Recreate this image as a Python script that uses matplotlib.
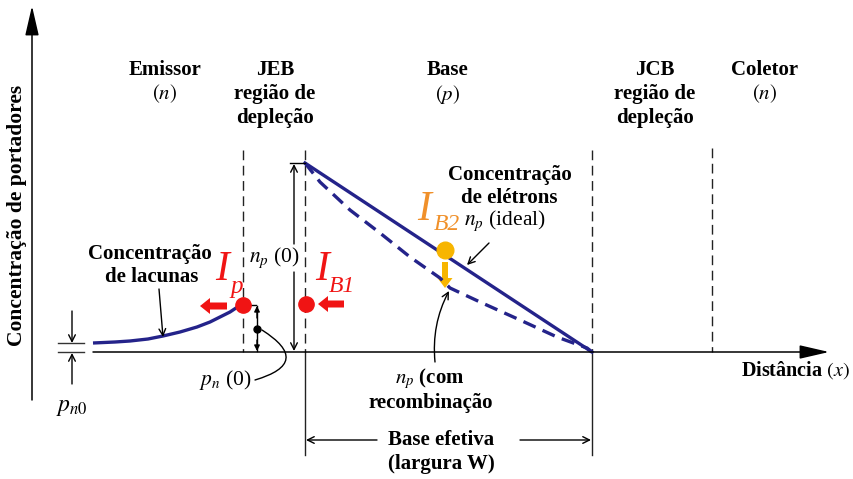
import matplotlib.pyplot as plt
from matplotlib.patches import FancyArrow

plt.rcParams['mathtext.fontset'] = 'stix'
plt.rcParams['font.family'] = ['Liberation Serif', 'DejaVu Serif']

# carrier profiles along the transistor (x to the right, concentration upward on screen)
hole_x = [93, 115, 130, 148, 163, 180, 197, 210, 220, 230, 236, 243]
hole_y = [343, 342, 341, 339, 336, 332, 327, 322, 317, 312, 308, 305]

ideal_x = [305, 592]
ideal_y = [163, 352]

recomb_x = [305, 320, 350, 380, 410, 440, 450, 480, 520, 557, 587, 592]
recomb_y = [163, 182, 210, 233, 257, 278, 288, 302, 320, 337, 348, 352]

# region boundaries (dashed lines)
boundary_x = [243, 305, 592, 712]
boundary_top = [150, 150, 150, 148]

baseline_y = 352
pn0_y = 305

regions = [
    (165, ['Emissor', r'$(n)$']),
    (275, ['JEB', 'região de', 'depleção']),
    (448, ['Base', r'$(p)$']),
    (655, ['JCB', 'região de', 'depleção']),
    (765, ['Coletor', r'$(n)$']),
]

NAVY = '#24238a'
RED = '#f01414'
ORANGE_TXT = '#f0902a'
ORANGE = '#f7b500'

fig = plt.figure(figsize=(8.54, 4.79), dpi=100)
ax = fig.add_axes([0, 0, 1, 1])
ax.set_xlim(0, 854)
ax.set_ylim(479, 0)
ax.axis('off')


def arrow(x0, y0, x1, y1, style='->', lw=1.0, color='k', rad=0.0, ms=12):
    ax.annotate('', xy=(x1, y1), xytext=(x0, y0),
                arrowprops=dict(arrowstyle=style, lw=lw, color=color,
                                mutation_scale=ms, shrinkA=0, shrinkB=0,
                                connectionstyle=f'arc3,rad={rad}'))


def text(x, y, s, size=15, weight='bold', **kw):
    ax.text(x, y, s, fontsize=size, fontweight=weight, ha=kw.pop('ha', 'center'),
            va=kw.pop('va', 'center'), **kw)


# axes
arrow(32, 400, 32, 6, style='-|>,head_length=1.3,head_width=0.3', lw=1.1, ms=14)
arrow(93, baseline_y, 829, baseline_y, style='-|>,head_length=1.3,head_width=0.3', lw=1.1, ms=14)
text(17, 215, 'Concentração de portadores', size=15.5, rotation=90)
text(850, 370, r'Distância $(x)$', size=14.5, ha='right')

# region titles
for cx, lines in regions:
    for i, s in enumerate(lines):
        text(cx, 70 + 24 * i, s)

# boundaries
for bx, top in zip(boundary_x, boundary_top):
    ax.plot([bx, bx], [top, baseline_y], color='#222', lw=1.0, dashes=(7, 4))
for bx in (305, 592):
    ax.plot([bx, bx], [baseline_y, 455], color='#222', lw=1.0)

# equilibrium hole level p_n0
for yy in (343, 352):
    ax.plot([58, 84], [yy, yy], color='#333', lw=1.0)
arrow(72, 311, 72, 343)
arrow(72, 384, 72, 353)
text(72, 407, r'$p_{n0}$', size=17, weight='normal')

# carrier curves
ax.plot(hole_x, hole_y, color=NAVY, lw=2.4, solid_capstyle='butt')
ax.plot(ideal_x, ideal_y, color=NAVY, lw=2.4)
ax.plot(recomb_x, recomb_y, color=NAVY, lw=2.4, dashes=(4, 2.3))

# n_p(0) marker
ax.plot([290, 305], [163, 163], color='k', lw=1.0)
arrow(294, 244, 294, 164)
arrow(294, 272, 294, 351)
text(274, 258, r'$n_p$ (0)', size=15.5, weight='normal')

# p_n(0) marker
ax.plot([243, 256], [pn0_y, pn0_y], color='k', lw=1.0)
arrow(257, 318, 257, 306, style='-|>', ms=8)
arrow(257, 340, 257, 351, style='-|>', ms=8)
ax.plot([257, 257], [306, 351], color='k', lw=1.0)
ax.plot([257], [329], 'o', color='k', ms=5)
arrow(255, 380, 262, 330, style='-', rad=1.1)
text(225, 380, r'$p_n$ (0)', size=15.5, weight='normal')

# annotations
text(150, 254, 'Concentração')
text(152, 277, 'de lacunas')
arrow(159, 289, 163, 337)

text(510, 175, 'Concentração')
text(509, 198, 'de elétrons')
text(505, 221, r'$n_p$ (ideal)', size=15.5, weight='normal')
arrow(489, 243, 467, 265)

text(430, 379, r'$n_p$ (com')
text(431, 403, 'recombinação')
arrow(435, 362, 449, 291, rad=-0.15)

text(441, 440, 'Base efetiva')
text(441, 464, '(largura W)')
arrow(377, 440, 306, 440)
arrow(520, 440, 591, 440)

# currents
ax.plot([243, 306], [305, 304], 'o', color=RED, ms=11, ls='none')
ax.add_patch(FancyArrow(227, 306, -27, 0, width=7, head_width=16, head_length=10,
                        length_includes_head=True, color=RED, lw=0))
ax.add_patch(FancyArrow(344, 304, -26, 0, width=7, head_width=16, head_length=10,
                        length_includes_head=True, color=RED, lw=0))
text(222, 270, 'I', size=30, weight='normal', style='italic', color=RED)
text(237, 287, 'p', size=18, weight='normal', style='italic', color=RED)
text(322, 270, 'I', size=30, weight='normal', style='italic', color=RED)
text(342, 286, 'B1', size=17, weight='normal', style='italic', color=RED)

ax.plot([445], [250], 'o', color=ORANGE, ms=12)
ax.add_patch(FancyArrow(445, 262, 0, 26, width=6, head_width=15, head_length=10,
                        length_includes_head=True, color=ORANGE, lw=0))
text(424, 210, 'I', size=30, weight='normal', style='italic', color=ORANGE_TXT)
text(447, 224, 'B2', size=17, weight='normal', style='italic', color=ORANGE_TXT)

fig.savefig('out.png', dpi=100)
